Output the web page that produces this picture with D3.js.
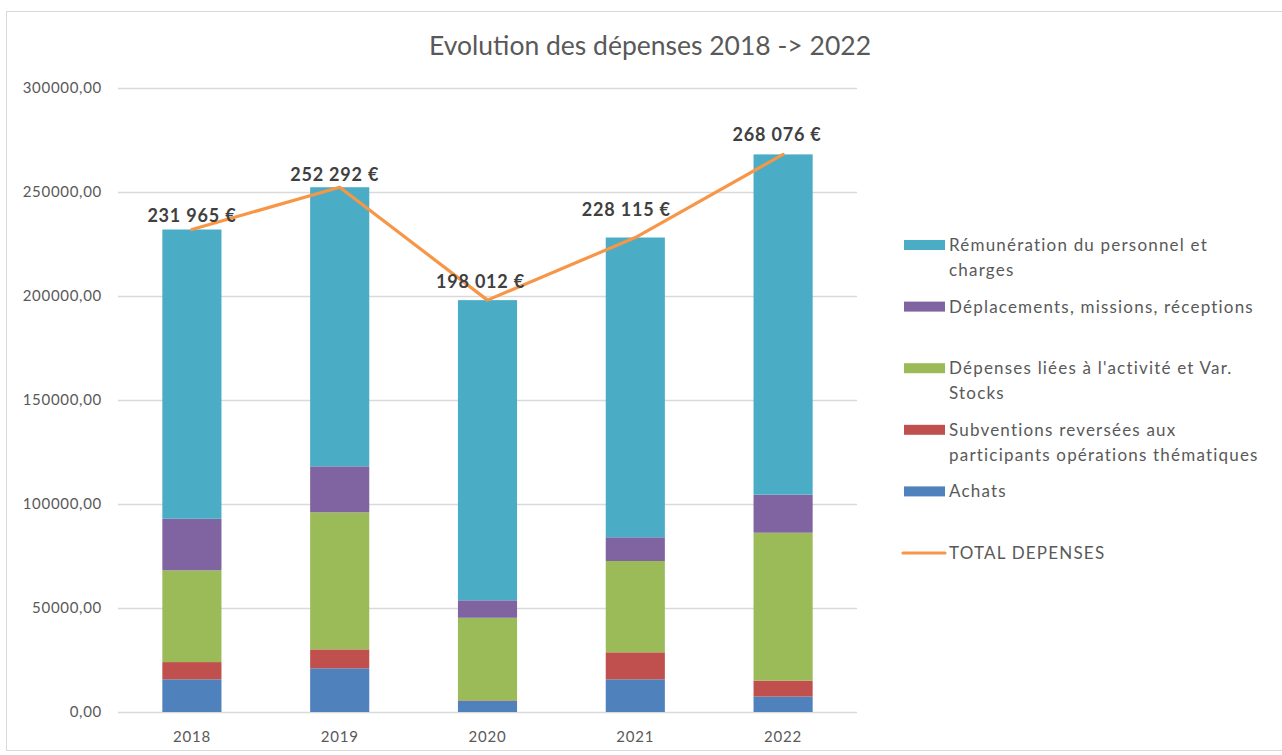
<!DOCTYPE html>
<html>
<head>
<meta charset="utf-8">
<script src="https://cdn.jsdelivr.net/npm/d3@7"></script>
<style>
  html, body { margin: 0; padding: 0; background: #fff; }
  svg { display: block; font-family: Lato, "Open Sans", sans-serif; }
</style>
</head>
<body>
<svg id="chart" width="1282" height="755"></svg>
<script>
// Years on the x axis
const years = ["2018", "2019", "2020", "2021", "2022"];

// Expense series (€), bottom of the stack first
const achats        = [15700, 21000, 5300, 15700, 7400];
const subventions   = [8300, 9100, 300, 13000, 7700];
const depensesActiv = [44100, 65900, 39700, 43900, 71100];
const deplacements  = [24800, 22100, 8400, 11400, 18300];
const remuneration  = [139065, 134192, 144312, 144115, 163576];

// Total expenses per year (line + data labels)
const totals = [231965, 252292, 198012, 228115, 268076];

// Y axis ticks
const yTicks = [0, 50000, 100000, 150000, 200000, 250000, 300000];

const seriesKeys = ["achats", "subventions", "depensesActiv", "deplacements", "remuneration"];
const seriesValues = { achats, subventions, depensesActiv, deplacements, remuneration };
const seriesLabels = {
  remuneration: ["Rémunération du personnel et", "charges"],
  deplacements: ["Déplacements, missions, réceptions"],
  depensesActiv: ["Dépenses liées à l'activité et Var.", "Stocks"],
  subventions: ["Subventions reversées aux", "participants opérations thématiques"],
  achats: ["Achats"]
};
const colors = {
  remuneration: "#4BACC6",
  deplacements: "#8064A2",
  depensesActiv: "#9BBB59",
  subventions: "#C0504D",
  achats: "#4F81BD"
};
const totalColor = "#F79646";
const totalLabel = "TOTAL DEPENSES";

// Small nudges for the total labels so they clear the line
const labelNudge = [[0, -14], [-5, -12], [-7, -18], [-9, -28], [-6, -19]];

const svg = d3.select("#chart");

// Outer chart frame
svg.append("rect")
  .attr("x", 6.5).attr("y", 11.5)
  .attr("width", 1290).attr("height", 739)
  .attr("fill", "#fff").attr("stroke", "#d9d9d9");

// Title
svg.append("text")
  .attr("x", 650).attr("y", 55)
  .attr("text-anchor", "middle")
  .attr("font-size", 26.5)
  .attr("fill", "#595959")
  .text("Evolution des dépenses 2018 -> 2022");

const plot = { left: 118, right: 857, top: 88, bottom: 712 };

const x = d3.scaleBand()
  .domain(years)
  .range([plot.left, plot.right])
  .paddingInner(0.6)
  .paddingOuter(0.3);

const y = d3.scaleLinear()
  .domain([0, 300000])
  .range([plot.bottom, plot.top]);

// Gridlines
svg.append("g")
  .selectAll("line")
  .data(yTicks)
  .join("line")
  .attr("x1", plot.left).attr("x2", plot.right)
  .attr("y1", d => Math.round(y(d)) + 0.5)
  .attr("y2", d => Math.round(y(d)) + 0.5)
  .attr("stroke", "#d9d9d9")
  .attr("stroke-width", 1.3);

// Y axis labels
const fmtY = d => d3.format(".2f")(d).replace(".", ",");
const yAxis = svg.append("g")
  .attr("transform", `translate(${plot.left - 16},0)`)
  .call(d3.axisLeft(y).tickValues(yTicks).tickFormat(fmtY).tickSize(0).tickPadding(0));
yAxis.select(".domain").remove();
yAxis.selectAll("text")
  .attr("font-family", "Lato, 'Open Sans', sans-serif")
  .attr("font-size", 15)
  .attr("letter-spacing", 0.7)
  .attr("fill", "#595959");

// X axis labels
const xAxis = svg.append("g")
  .attr("transform", `translate(0,${plot.bottom + 19})`)
  .call(d3.axisBottom(x).tickSize(0).tickPadding(0));
xAxis.select(".domain").remove();
xAxis.selectAll("text")
  .attr("font-family", "Lato, 'Open Sans', sans-serif")
  .attr("font-size", 15)
  .attr("letter-spacing", 0.8)
  .attr("fill", "#595959");

// Stacked bars
const table = years.map((yr, i) => {
  const row = { year: yr };
  seriesKeys.forEach(k => { row[k] = seriesValues[k][i]; });
  return row;
});
const stacked = d3.stack().keys(seriesKeys)(table);

svg.append("g")
  .selectAll("g")
  .data(stacked)
  .join("g")
  .attr("fill", d => colors[d.key])
  .selectAll("rect")
  .data(d => d)
  .join("rect")
  .attr("x", d => x(d.data.year))
  .attr("width", x.bandwidth())
  .attr("y", d => y(d[1]))
  .attr("height", d => y(d[0]) - y(d[1]));

// Total line
const line = d3.line()
  .x((d, i) => x(years[i]) + x.bandwidth() / 2)
  .y(d => y(d));

svg.append("path")
  .datum(totals)
  .attr("d", line)
  .attr("fill", "none")
  .attr("stroke", totalColor)
  .attr("stroke-width", 3.2)
  .attr("stroke-linejoin", "round")
  .attr("stroke-linecap", "round");

// Total data labels
const fmtEuro = v => d3.format(",")(v).replace(/,/g, " ") + " €";
svg.append("g")
  .selectAll("text")
  .data(totals)
  .join("text")
  .attr("x", (d, i) => x(years[i]) + x.bandwidth() / 2 + labelNudge[i][0])
  .attr("y", (d, i) => y(d) + labelNudge[i][1] + 6)
  .attr("text-anchor", "middle")
  .attr("font-size", 18)
  .attr("letter-spacing", 0.8)
  .attr("font-weight", "bold")
  .attr("fill", "#404040")
  .text(fmtEuro);

// Legend
const legendKeys = seriesKeys.slice().reverse();
const legendY = d3.scaleLinear().domain([0, 5]).range([245, 553]);
const legend = svg.append("g");

legendKeys.forEach((k, i) => {
  const cy = legendY(i);
  legend.append("rect")
    .attr("x", 904).attr("y", cy - 5)
    .attr("width", 41).attr("height", 10)
    .attr("fill", colors[k]);
  const t = legend.append("text")
    .attr("x", 949).attr("y", cy + 6)
    .attr("font-size", 17)
    .attr("letter-spacing", 1.2)
    .attr("fill", "#595959");
  seriesLabels[k].forEach((ln, j) => {
    t.append("tspan").attr("x", 949).attr("dy", j === 0 ? 0 : 25).text(ln);
  });
});

// Total line legend entry
const ty = legendY(5);
legend.append("line")
  .attr("x1", 903).attr("x2", 945)
  .attr("y1", ty).attr("y2", ty)
  .attr("stroke", totalColor)
  .attr("stroke-width", 3.2)
  .attr("stroke-linecap", "round");
legend.append("text")
  .attr("x", 949).attr("y", ty + 6)
  .attr("font-size", 17)
  .attr("letter-spacing", 1.2)
  .attr("fill", "#595959")
  .text(totalLabel);
</script>
</body>
</html>
